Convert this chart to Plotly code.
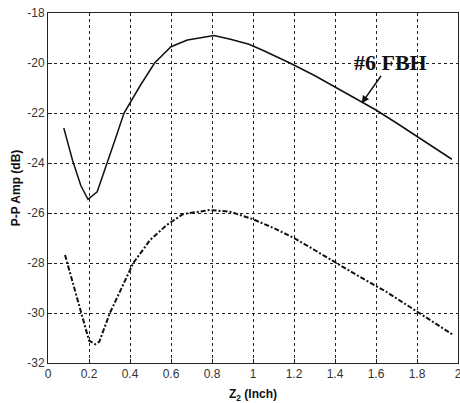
import plotly.graph_objects as go

# Solid curve (#6 FBH)
z_solid = [0.077, 0.12, 0.16, 0.195, 0.24, 0.29, 0.33, 0.371, 0.45, 0.52, 0.6, 0.68,
           0.75, 0.81, 0.89, 0.98, 1.05, 1.13, 1.18, 1.3, 1.4, 1.5, 1.6, 1.7, 1.8, 1.89, 1.97]
amp_solid = [-22.6, -23.9, -24.9, -25.45, -25.15, -24.0, -23.0, -22.0, -20.9, -20.0, -19.35, -19.08,
             -18.97, -18.9, -19.05, -19.25, -19.5, -19.81, -20.0, -20.5, -20.95, -21.4, -21.88, -22.4,
             -22.95, -23.41, -23.85]

# Dash-dot curve
z_dash = [0.083, 0.15, 0.2, 0.23, 0.25, 0.302, 0.36, 0.416, 0.498, 0.579, 0.66, 0.79,
          0.888, 1.0, 1.1, 1.2, 1.3, 1.4, 1.52, 1.65, 1.8, 1.9, 1.977]
amp_dash = [-27.68, -29.6, -31.1, -31.25, -31.15, -30.0, -28.95, -28.0, -27.08, -26.48, -26.04, -25.88,
            -25.95, -26.25, -26.6, -27.0, -27.48, -27.97, -28.55, -29.15, -29.95, -30.45, -30.88]

x_ticks = [0, 0.2, 0.4, 0.6, 0.8, 1, 1.2, 1.4, 1.6, 1.8, 2]
x_tick_labels = ["0", "0.2", "0.4", "0.6", "0.8", "1", "1.2", "1.4", "1.6", "1.8", "2"]
y_ticks = [-32, -30, -28, -26, -24, -22, -20, -18]
y_tick_labels = ["-32", "-30", "-28", "-26", "-24", "-22", "-20", "-18"]

fig = go.Figure()
fig.add_trace(go.Scatter(x=z_solid, y=amp_solid, mode="lines",
                         line=dict(color="#111111", width=1.5), showlegend=False))
fig.add_trace(go.Scatter(x=z_dash, y=amp_dash, mode="lines",
                         line=dict(color="#111111", width=2, dash="5px,2px,2px,2px"),
                         showlegend=False))

fig.add_annotation(x=1.53, y=-21.61, ax=1.673, ay=-19.96, axref="x", ayref="y",
                   text="<b>#6 FBH</b>", showarrow=True, arrowhead=2, arrowsize=1,
                   arrowwidth=1.5, arrowcolor="#111111", standoff=0,
                   font=dict(family="Liberation Serif", size=22, color="#111111"))

axis_common = dict(showgrid=True, gridcolor="#222222", gridwidth=1, griddash="3px,3px",
                   showline=True, linecolor="#222222", linewidth=1, mirror=True,
                   ticks="inside", ticklen=4, tickcolor="#222222", zeroline=False,
                   automargin=False, ticklabeloverflow="allow",
                   tickfont=dict(family="Liberation Sans", size=12, color="#333333"))

fig.update_xaxes(range=[0, 2], tickvals=x_ticks, ticktext=x_tick_labels,
                 title=dict(text="<b>Z<sub>2</sub> (Inch)</b>", standoff=10,
                            font=dict(family="Liberation Sans", size=12, color="#111111")),
                 **axis_common)
fig.update_yaxes(range=[-32, -18], tickvals=y_ticks, ticktext=y_tick_labels,
                 title=dict(text="<b>P-P Amp (dB)</b>", standoff=4,
                            font=dict(family="Liberation Sans", size=12, color="#111111")),
                 **axis_common)

fig.update_layout(width=460, height=403, margin=dict(l=48, r=2, t=13, b=40),
                  plot_bgcolor="white", paper_bgcolor="white")

fig.write_html("out.html", config={"displayModeBar": False},
               post_script="document.body.style.margin='0';document.body.style.overflow='hidden';")
